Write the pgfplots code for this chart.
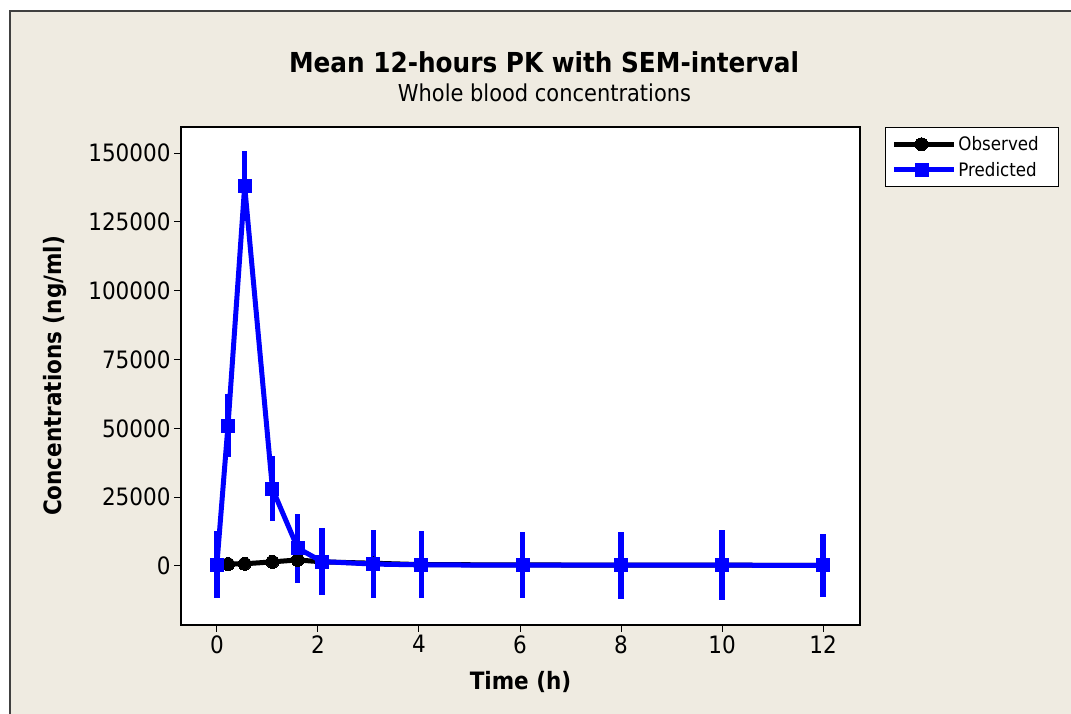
\documentclass[border=0pt]{standalone}
\usepackage{fontspec}
\setmainfont{DejaVu Sans Condensed}[BoldFont={DejaVu Sans Condensed Bold}]
\usepackage{pgfplots}
\pgfplotsset{compat=1.18}
\definecolor{bgc}{HTML}{EFEBE1}
\definecolor{pblue}{HTML}{0000FF}
\begin{document}
\begin{tikzpicture}[x=1bp,y=1bp]
\useasboundingbox (0,0) rectangle (1071,714);
\fill[white] (0,0) rectangle (1071,714);
\fill[bgc] (10,0) rectangle (1071,703);
\draw[line width=1.5bp, black!75] (10,-2) -- (10,703) -- (1073,703);
\node[font=\bfseries\fontsize{27.6}{32}\selectfont] at (544,652) {Mean 12-hours PK with SEM-interval};
\node[font=\fontsize{23.4}{27}\selectfont] at (544.5,621) {Whole blood concentrations};
\begin{axis}[
  at={(181bp,89bp)}, anchor=south west,
  width=679bp, height=498bp, scale only axis,
  axis background/.style={fill=white},
  axis line style={line width=1.5bp, black},
  xmin=-0.71, xmax=12.73,
  ymin=-21430, ymax=159450,
  xtick={0,2,...,12},
  ytick={0,25000,50000,75000,100000,125000,150000},
  scaled y ticks=false,
  /pgf/number format/assume math mode=true,
  yticklabel={\pgfmathprintnumber[fixed,precision=0,1000 sep={}]{\tick}},
  tick label style={font=\fontsize{24}{27}\selectfont},
  tick align=outside,
  major tick length=7bp,
  tick style={line width=1bp, black},
  xtick pos=bottom, ytick pos=left,
  xlabel={Time (h)}, ylabel={Concentrations (ng/ml)},
  label style={font=\bfseries\fontsize{24}{27}\selectfont},
  xlabel style={at={(axis description cs:0.5,-0.1145)}, anchor=center},
  ylabel style={at={(axis description cs:-0.1856,0.5)}, anchor=center},
  legend style={at={(1.0368,1)}, anchor=north west, draw=black, line width=1bp,
    font=\fontsize{18.6}{21}\selectfont, inner xsep=6bp, inner ysep=7bp,
    row sep=6bp, cells={anchor=west}},
  legend cell align=left,
  legend image code/.code={\draw[mark repeat=2,mark phase=2,#1] plot coordinates {(0bp,0bp) (27.5bp,0bp) (55bp,0bp)}; \path (55bp,0bp) -- (60bp,0bp);},
  clip=true,
]
\addplot[black, line width=5bp, mark=*, mark size=6.5bp, mark options={solid, fill=black, line width=0bp}]
coordinates {
(0,500) (0.22,700) (0.55,800) (1.1,1500) (1.6,2200) (2.08,1500) (3.1,1000) (4.05,500) (6.05,400) (8,300) (10,300) (12,200)
};
\addlegendentry{\hbox to 92bp{Observed\hfil}}
\addplot[pblue, line width=5bp, mark=square*, mark size=6.5bp, mark options={solid, fill=pblue, line width=0bp},
  error bars/.cd, y dir=both, y explicit, error mark=none, error bar style={line width=5.5bp, pblue}]
coordinates {
(0,500) +- (0,12300)
(0.22,51000) +- (0,11500)
(0.55,138000) +- (0,12800)
(1.1,28000) +- (0,11800)
(1.6,6500) +- (0,12500)
(2.08,1600) +- (0,12300)
(3.1,700) +- (0,12300)
(4.05,400) +- (0,12200)
(6.05,300) +- (0,12000)
(8,300) +- (0,12200)
(10,300) +- (0,12600)
(12,200) +- (0,11600)
};
\addlegendentry{Predicted}
\end{axis}
\end{tikzpicture}
\end{document}
